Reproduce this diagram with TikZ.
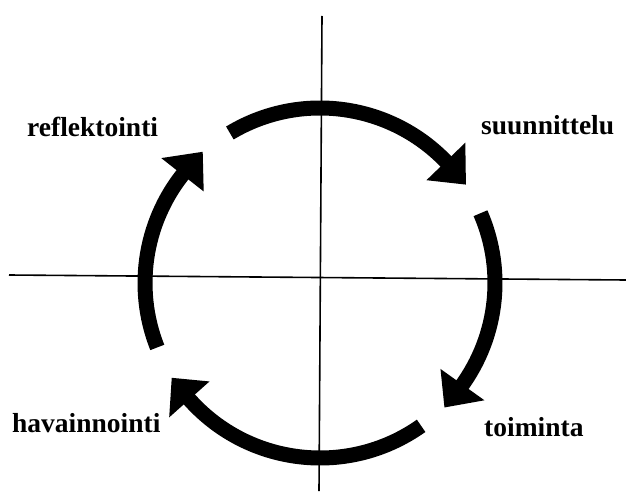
\documentclass[tikz,border=0pt]{standalone}
\usepackage{fontspec}
\setmainfont{Liberation Serif}
\begin{document}
\begin{tikzpicture}[x=1pt,y=1pt,
  axis/.style={line width=1.6pt,black},
  shaft/.style={line width=15pt,black,line cap=butt},
  head/.style={fill=black},
  lbl/.style={anchor=base west,inner sep=0pt,font=\fontsize{27.5}{30}\selectfont\bfseries}]
\fill[white] (0,0) rectangle (626,491);
\useasboundingbox (0,0) rectangle (626,491);
\coordinate (C) at (320,208);
% axes
\coordinate (hl) at (9,216);
\coordinate (hr) at (626,211);
\coordinate (vt) at (322,475);
\coordinate (vb) at (319,0);
\draw[axis] (hl) -- (hr);
\draw[axis] (vt) -- (vb);
% arrows: start angle, back angle, tip angle
\foreach \a/\b/\t in {121/44/34, 23.5/-35.5/-45, -54.7/-138.3/-147.4, 201.6/141.8/131.8}{
  \draw[shaft] ([shift={(\a:175)}]C) arc[start angle=\a, end angle=\b-3, radius=175];
  \fill[head] ([shift={(\b:148)}]C) -- ([shift={(\b:202)}]C) -- ([shift={(\t:176)}]C) -- cycle;
}
% labels
\node[lbl] (refl) at (27,355) {reflektointi};
\node[lbl] (suun) at (481,356) {suunnittelu};
\node[lbl] (hava) at (12,59) {havainnointi};
\node[lbl] (toim) at (484,55) {toiminta};
\end{tikzpicture}
\end{document}
